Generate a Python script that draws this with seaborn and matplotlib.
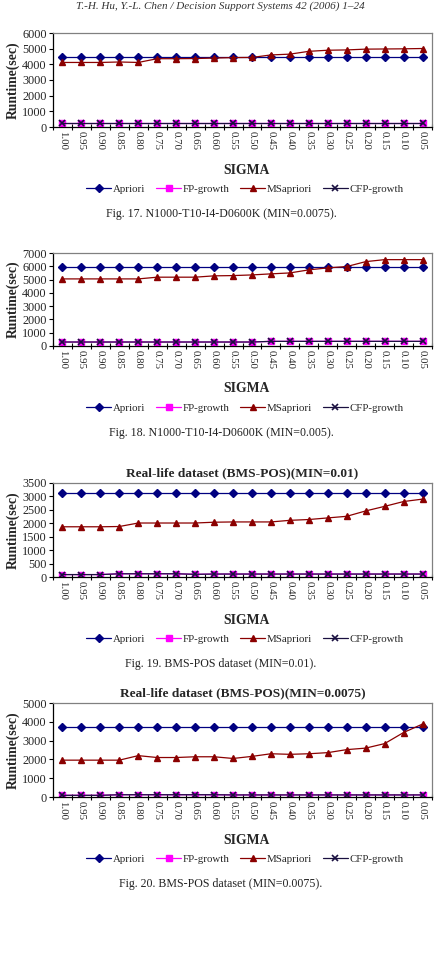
import numpy as np
import pandas as pd
import matplotlib
matplotlib.use("Agg")
import matplotlib.pyplot as plt
import seaborn as sns
from matplotlib.ticker import FixedLocator

sns.set_theme(style="white")
plt.rcParams['font.family'] = ['Liberation Serif', 'DejaVu Serif']

sigma = ["1.00", "0.95", "0.90", "0.85", "0.80", "0.75", "0.70", "0.65", "0.60", "0.55",
         "0.50", "0.45", "0.40", "0.35", "0.30", "0.25", "0.20", "0.15", "0.10", "0.05"]
series_names = ["Apriori", "FP-growth", "MSapriori", "CFP-growth"]

# Fig. 17
f17_apriori = [4440] * 20
f17_fp = [260] * 20
f17_ms = [4120, 4120, 4120, 4150, 4120, 4360, 4360, 4370, 4400, 4430,
          4440, 4600, 4650, 4830, 4900, 4920, 4970, 4980, 4990, 5010]
f17_cfp = [260] * 20

# Fig. 18
f18_apriori = [5930] * 20
f18_fp = [300, 300, 300, 300, 300, 300, 300, 300, 300, 300,
          300, 350, 350, 350, 350, 350, 350, 350, 350, 350]
f18_ms = [5050, 5050, 5050, 5050, 5050, 5180, 5180, 5180, 5280, 5300,
          5350, 5430, 5500, 5730, 5880, 5980, 6350, 6500, 6500, 6500]
f18_cfp = [300, 300, 300, 300, 300, 300, 300, 300, 300, 300,
           300, 350, 350, 350, 350, 350, 350, 350, 350, 350]

# Fig. 19
f19_apriori = [3110] * 20
f19_fp = [90, 90, 90, 120, 120, 120, 120, 100, 110, 110,
          110, 110, 110, 110, 110, 110, 110, 110, 110, 110]
f19_ms = [1870, 1870, 1870, 1880, 2010, 2010, 2010, 2010, 2040, 2050,
          2050, 2050, 2110, 2140, 2200, 2260, 2460, 2630, 2810, 2900]
f19_cfp = [90, 90, 90, 120, 120, 120, 120, 100, 110, 110,
           110, 110, 110, 110, 110, 110, 110, 110, 110, 110]

# Fig. 20
f20_apriori = [3700] * 20
f20_fp = [90, 90, 90, 120, 120, 120, 120, 120, 120, 110,
          110, 110, 110, 110, 110, 110, 110, 110, 110, 110]
f20_ms = [1960, 1960, 1960, 1960, 2200, 2100, 2100, 2140, 2140, 2050,
          2160, 2300, 2270, 2300, 2360, 2520, 2600, 2840, 3430, 3880]
f20_cfp = [90, 90, 90, 120, 120, 120, 120, 120, 120, 110,
           110, 110, 110, 110, 110, 110, 110, 110, 110, 110]

panels = [
    dict(data=[f17_apriori, f17_fp, f17_ms, f17_cfp], ymax=6000, step=1000,
         title=None, caption="Fig. 17. N1000-T10-I4-D0600K (MIN=0.0075).",
         top=33, bottom=127),
    dict(data=[f18_apriori, f18_fp, f18_ms, f18_cfp], ymax=7000, step=1000,
         title=None, caption="Fig. 18. N1000-T10-I4-D0600K (MIN=0.005).",
         top=253, bottom=346),
    dict(data=[f19_apriori, f19_fp, f19_ms, f19_cfp], ymax=3500, step=500,
         title="Real-life dataset (BMS-POS)(MIN=0.01)",
         caption="Fig. 19. BMS-POS dataset (MIN=0.01).",
         top=483, bottom=577),
    dict(data=[f20_apriori, f20_fp, f20_ms, f20_cfp], ymax=5000, step=1000,
         title="Real-life dataset (BMS-POS)(MIN=0.0075)",
         caption="Fig. 20. BMS-POS dataset (MIN=0.0075).",
         top=703, bottom=797),
]

colors = {"Apriori": "#000080", "FP-growth": "#FF00FF", "MSapriori": "#8B0000", "CFP-growth": "#1a1040"}
markers = {"Apriori": "D", "FP-growth": "s", "MSapriori": "^", "CFP-growth": "x"}
msizes = {"Apriori": 3.6, "FP-growth": 4, "MSapriori": 5, "CFP-growth": 5}

W, H = 437, 957
fig = plt.figure(figsize=(W / 100, H / 100), dpi=100)

fig.text(220 / W, 1 - 6 / H, "T.-H. Hu, Y.-L. Chen / Decision Support Systems 42 (2006) 1\u201324",
         ha="center", va="center", fontsize=8, style="italic", color="#333333")

left, right = 53, 432
idx = np.arange(len(sigma))
for p in panels:
    ax = fig.add_axes([left / W, 1 - p["bottom"] / H, (right - left) / W, (p["bottom"] - p["top"]) / H])
    rows = []
    for name, vals in zip(series_names, p["data"]):
        for i, v in enumerate(vals):
            rows.append(dict(x=i, y=v, series=name))
    df = pd.DataFrame(rows)
    for name in series_names:
        sub = df[df.series == name]
        sns.lineplot(data=sub, x="x", y="y", ax=ax, color=colors[name], marker=markers[name],
                     markersize=msizes[name], markeredgecolor=colors[name],
                     markeredgewidth=1.0 if name != "CFP-growth" else 1.2,
                     linewidth=0.9, label=name, legend=False)
    ax.set_xlim(-0.5, len(sigma) - 0.5)
    ax.set_ylim(0, p["ymax"])
    yt = np.arange(0, p["ymax"] + 1, p["step"])
    ax.set_yticks(yt)
    ax.set_yticklabels([str(int(v)) for v in yt], fontsize=8.8)
    ax.set_xticks(idx)
    ax.set_xticklabels(sigma, rotation=-90, fontsize=7.8)
    ax.xaxis.set_minor_locator(FixedLocator(np.arange(-0.5, len(sigma), 1.0)))
    ax.tick_params(axis="x", which="major", length=0, pad=3)
    ax.tick_params(axis="x", which="minor", length=4, direction="inout", width=0.8, color="black", bottom=True)
    ax.tick_params(axis="y", which="major", length=3, direction="out", width=0.8, color="black", left=True, pad=1.5)
    for s in ["top", "right"]:
        ax.spines[s].set_color("#808080")
        ax.spines[s].set_linewidth(0.9)
    for s in ["left", "bottom"]:
        ax.spines[s].set_color("black")
        ax.spines[s].set_linewidth(0.9)
    ax.set_xlabel("")
    ax.set_ylabel("Runtime(sec)", fontsize=9.8, fontweight="bold")
    ax.yaxis.set_label_coords(-0.088, 0.5)
    ax.grid(False)
    ax.set_facecolor("white")
    if p["title"]:
        ax.set_title(p["title"], fontsize=9.6, fontweight="bold", pad=5)
    b = p["bottom"]
    fig.text(247 / W, 1 - (b + 43) / H, "SIGMA", ha="center", va="center", fontsize=9.8, fontweight="bold")
    handles, labels = ax.get_legend_handles_labels()
    fig.legend(handles, labels, loc="center", bbox_to_anchor=(245 / W, 1 - (b + 62) / H),
               ncol=4, frameon=False, fontsize=7.8, handlelength=2.3, handletextpad=0.15,
               columnspacing=1.0, borderaxespad=0)
    fig.text(221 / W, 1 - (b + 87) / H, p["caption"], ha="center", va="center", fontsize=8.6, color="#222222")

fig.savefig("out.png", dpi=100, facecolor="white")
